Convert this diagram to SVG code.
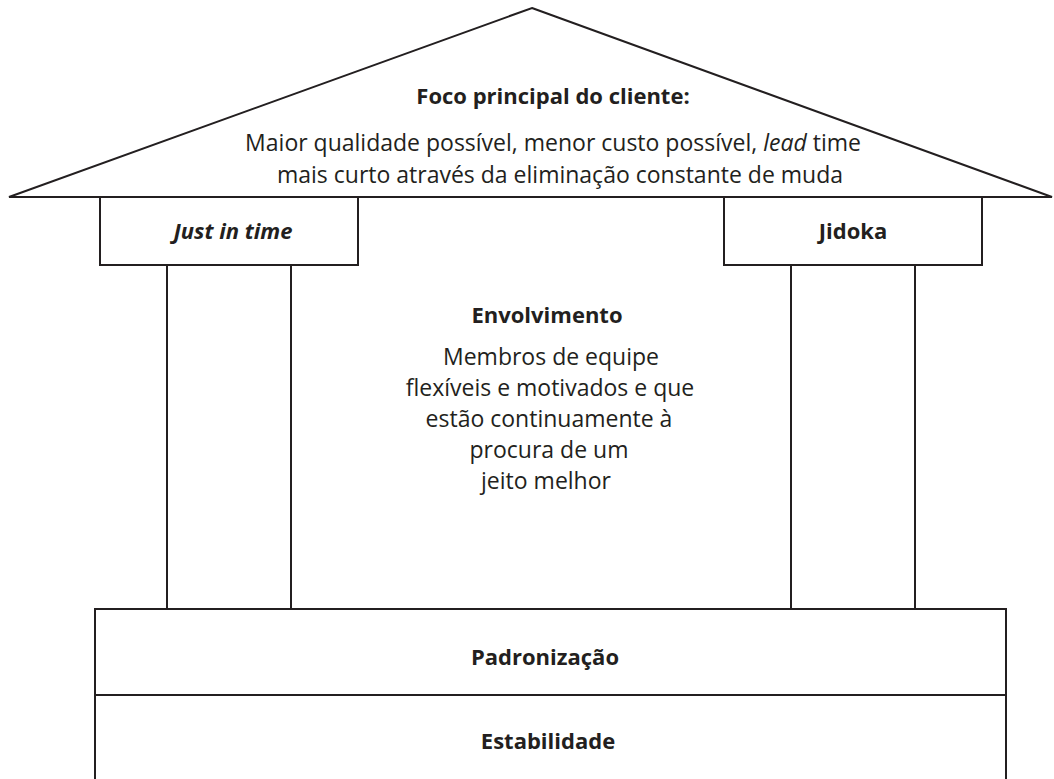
<svg xmlns="http://www.w3.org/2000/svg" width="1054" height="779" viewBox="0 0 1054 779">
<style>
.s{fill:#fff;stroke:#231f20;stroke-width:2}
text{font-family:"Open Sans","Liberation Sans",sans-serif;font-size:23px;fill:#231f20;text-anchor:middle}
.b{font-weight:bold;font-size:22px}
</style>
<rect width="1054" height="779" fill="#fff"/>
<g id="roof">
<polygon class="s" points="532,8 1052,197 9,197"/>
<text class="b" x="553" y="104">Foco principal do cliente:</text>
<text x="553" y="151">Maior qualidade possível, menor custo possível, <tspan font-style="italic">lead</tspan> time</text>
<text x="560" y="183">mais curto através da eliminação constante de muda</text>
</g>
<g id="col-left">
<rect class="s" x="167" y="265" width="124" height="344"/>
<rect class="s" x="100" y="197" width="258" height="68"/>
<text class="b" font-style="italic" x="233" y="239">Just in time</text>
</g>
<g id="col-right">
<rect class="s" x="791" y="265" width="124" height="344"/>
<rect class="s" x="724" y="197" width="258" height="68"/>
<text class="b" x="853" y="239">Jidoka</text>
</g>
<g id="center">
<text class="b" x="547" y="323">Envolvimento</text>
<text x="551" y="365">Membros de equipe</text>
<text x="550" y="396">flexíveis e motivados e que</text>
<text x="549" y="427">estão continuamente à</text>
<text x="549" y="458">procura de um</text>
<text x="546" y="489">jeito melhor</text>
</g>
<g id="padronizacao">
<rect class="s" x="95" y="609" width="911" height="86"/>
<text class="b" x="545" y="665">Padronização</text>
</g>
<g id="estabilidade">
<path class="s" d="M95,779 V695 H1006 V779"/>
<text class="b" x="548" y="749">Estabilidade</text>
</g>
<g id="connectors"></g>
</svg>
